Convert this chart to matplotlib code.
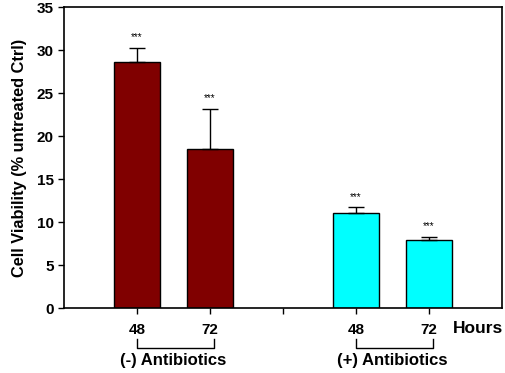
import matplotlib
matplotlib.use("Agg")
import matplotlib.pyplot as plt
import matplotlib.transforms as mtransforms

plt.rcParams['font.family'] = ['Liberation Sans', 'DejaVu Sans']

groups = ["(-) Antibiotics", "(+) Antibiotics"]
hours = ["48", "72"]
values = [28.6, 18.45, 11.1, 7.9]
errors = [1.7, 4.75, 0.6, 0.4]
colors = ["#800000", "#800000", "#00FFFF", "#00FFFF"]
sig = ["***", "***", "***", "***"]
positions = [1, 2, 4, 5]

fig = plt.figure(figsize=(5.05, 3.73), dpi=100)
ax = fig.add_axes([0.127, 0.174, 0.867, 0.807])

ax.bar(positions, values, width=0.62, color=colors, edgecolor="black", linewidth=1.0, zorder=2)
ax.errorbar(positions, values, yerr=[[0]*4, errors], fmt="none", ecolor="black",
            elinewidth=1.0, capsize=6, capthick=1.0, zorder=3)
for p, v, e, s in zip(positions, values, errors, sig):
    ax.text(p, v + e + 0.6, s, ha="center", va="bottom", fontsize=7)

ax.set_xlim(0, 6)
ax.set_ylim(0, 35)
ax.set_yticks(range(0, 36, 5))
ax.set_xticks([1, 2, 3, 4, 5])
ax.set_xticklabels([hours[0], hours[1], "", hours[0], hours[1]])
ax.tick_params(axis="both", direction="out", length=4, width=1.0, labelsize=11)
ax.tick_params(axis="x", pad=7)
for lab in ax.get_xticklabels() + ax.get_yticklabels():
    lab.set_fontweight("bold")
for sp in ax.spines.values():
    sp.set_linewidth(1.2)

ax.set_ylabel("Cell Viability (% untreated Ctrl)", fontsize=11.8, fontweight="bold", labelpad=7)

trans = mtransforms.blended_transform_factory(ax.transData, ax.transAxes)
ax.text(5.33, -0.067, "Hours", transform=trans, ha="left", va="center",
        fontsize=12.5, fontweight="bold", clip_on=False)
for (x0, x1), g in zip([(1, 2), (4, 5)], groups):
    ax.plot([x0 + 0.0, x0 + 0.0, x1 + 0.05, x1 + 0.05], [-0.103, -0.133, -0.133, -0.103],
            transform=trans, color="black", lw=1.0, clip_on=False)
    ax.text((x0 + x1) / 2, -0.175, g, transform=trans, ha="center", va="center",
            fontsize=12, fontweight="bold", clip_on=False)

fig.savefig("out.png", dpi=100)
